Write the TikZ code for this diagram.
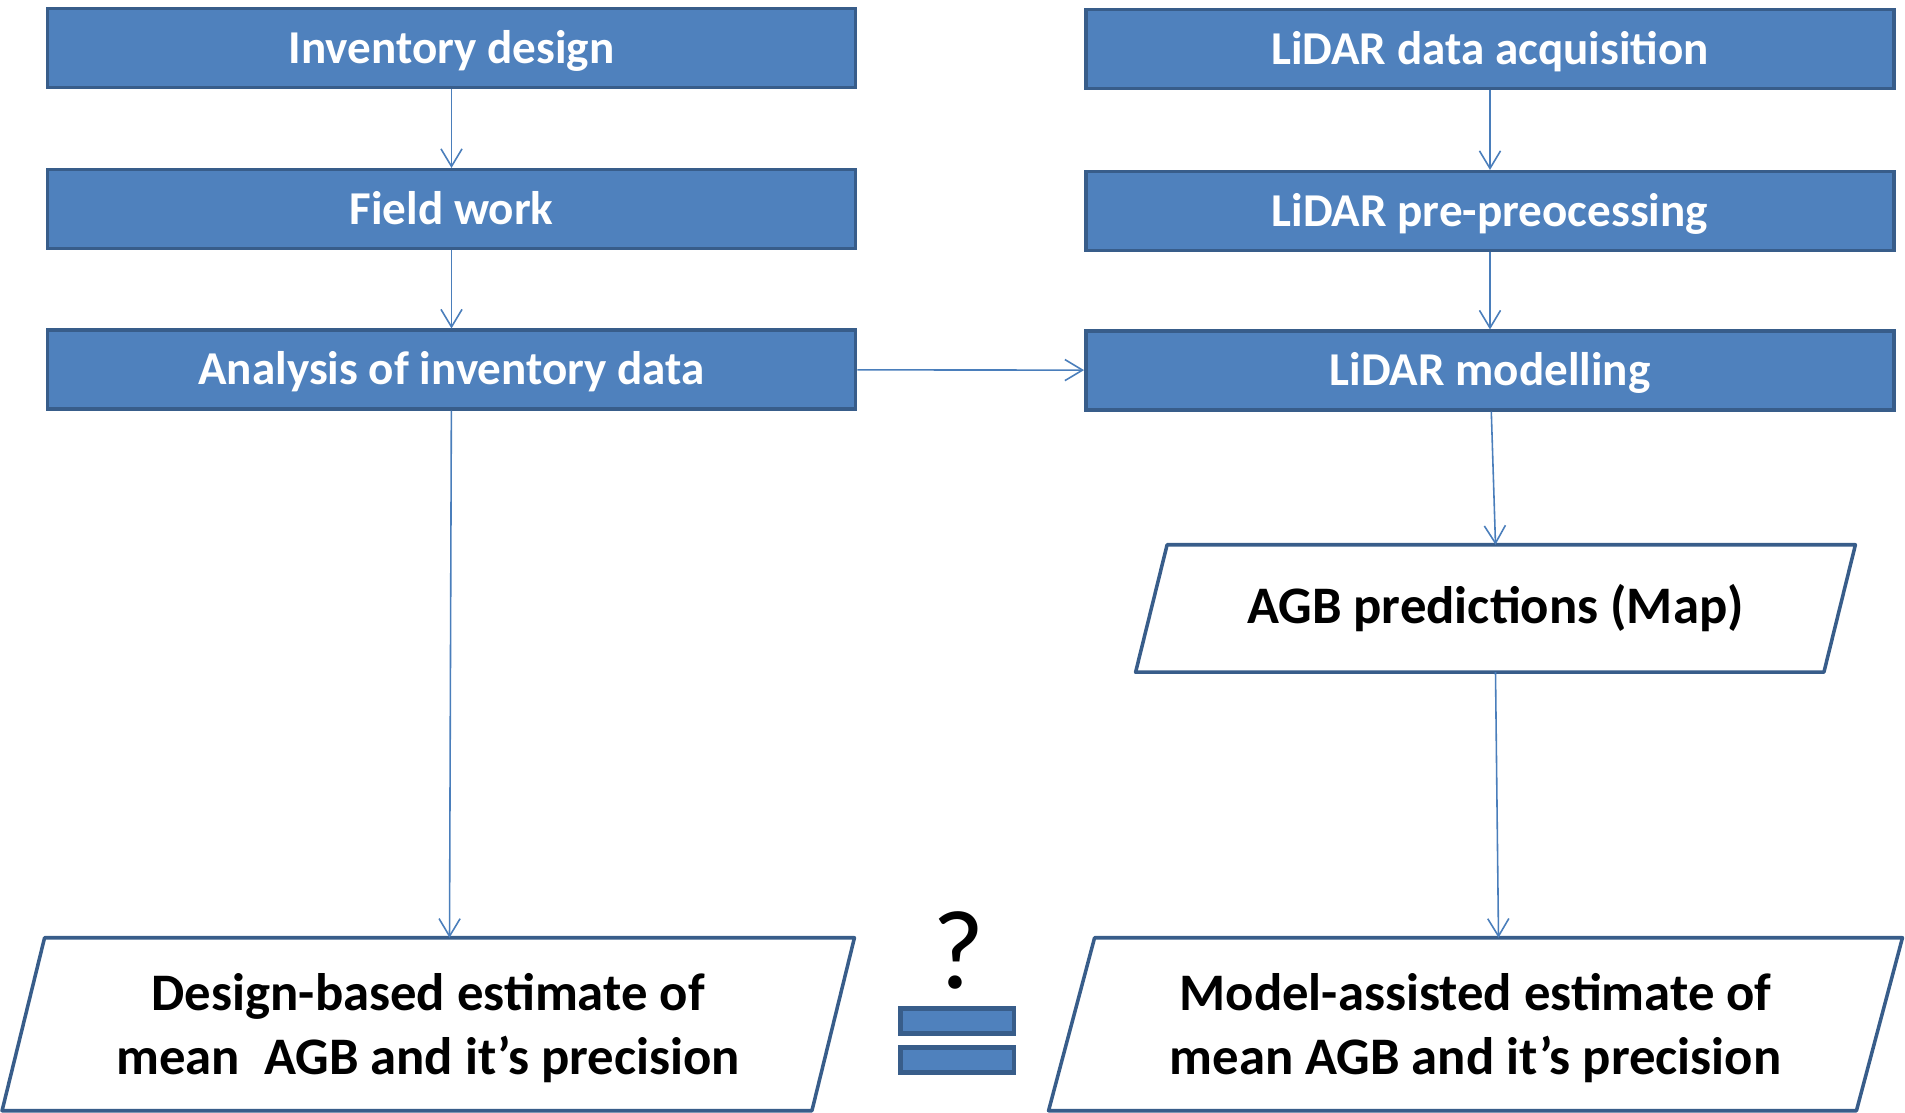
\documentclass[tikz,border=0pt]{standalone}
\usepackage{fontspec}
\setmainfont{Carlito}
\usetikzlibrary{arrows.meta,backgrounds}
\definecolor{boxfill}{HTML}{4F81BD}
\definecolor{boxline}{HTML}{385D8A}
\definecolor{linkcol}{HTML}{4A7EBB}

\begin{document}
\begin{tikzpicture}[x=0.01cm, y=-0.01cm,
        procbox/.style={draw=boxline, fill=boxfill, line width=1pt, minimum width=8.08cm, minimum height=0.785cm,
            inner sep=0pt, text=white, text height=8.6pt, text depth=0pt, font=\fontsize{13.4}{16}\selectfont\bfseries},
        datatext/.style={inner sep=0pt, align=center, font=\fontsize{15}{18.2}\selectfont\bfseries},
        dataline/.style={draw=boxline, line width=1pt, fill=white, line join=round},
        eqbar/.style={draw=boxline, fill=boxfill, line width=1.3pt, minimum width=1.135cm, minimum height=0.255cm, inner sep=0pt},
        link/.style={draw=linkcol, line width=0.45pt, -{Straight Barb[length=5pt,width=6pt]}}]
        \useasboundingbox (0,0) rectangle (1905,1113);

        % Field inventory (left column)
        \node[procbox] (invdesign) at (451.5,48) {Inventory design};
        \node[procbox] (fieldwork) at (451.5,209) {Field work};
        \node[procbox] (invanalysis) at (451.5,369.5) {Analysis of inventory data};

        % LiDAR chain (right column)
        \node[procbox] (lidacq) at (1490,49) {LiDAR data acquisition};
        \node[procbox] (lidpre) at (1490,211) {LiDAR pre-preocessing};
        \node[procbox] (lidmodel) at (1490,370.5) {LiDAR modelling};

        % Outputs (parallelograms drawn behind, from the node corners)
        \node[datatext, minimum width=6.865cm, minimum height=1.26cm] (agbmap) at (1495.5,608.5) {AGB predictions (Map)};
        \node[datatext, minimum width=8.08cm, minimum height=1.715cm] (dbest) at (428.25,1024.25)
            {\rule{0pt}{13pt}Design-based estimate of\\ mean\ \ AGB and it’s precision};
        \node[datatext, minimum width=8.06cm, minimum height=1.715cm] (maest) at (1475.5,1024.25)
            {\rule{0pt}{13pt}Model-assisted estimate of\\ mean AGB and it’s precision};
        \begin{scope}[on background layer]
            \foreach \nd/\sl in {agbmap/0.1575, dbest/0.2125, maest/0.23}
                \draw[dataline] ([xshift=\sl cm]\nd.north west) -- ([xshift=\sl cm]\nd.north east)
                    -- ([xshift=-\sl cm]\nd.south east) -- ([xshift=-\sl cm]\nd.south west) -- cycle;
        \end{scope}

        % Comparison sign
        \node[font=\fontsize{32}{32}\selectfont, inner sep=0pt] (query) at (959,950) {?};
        \node[eqbar] (eqtop) at (957,1021) {};
        \node[eqbar] (eqbot) at (957,1060) {};

        % Connectors
        \draw[link] (invdesign) -- (fieldwork);
        \draw[link] (fieldwork) -- (invanalysis);
        \draw[link] (invanalysis) -- ([xshift=0.2125cm]dbest.north);
        \draw[link] (invanalysis) -- (lidmodel);
        \draw[link] (lidacq) -- (lidpre);
        \draw[link] (lidpre) -- (lidmodel);
        \draw[link] (lidmodel) -- (agbmap.north);
        \draw[link] (agbmap.south) -- ([xshift=0.23cm]maest.north);
\end{tikzpicture}
\end{document}
